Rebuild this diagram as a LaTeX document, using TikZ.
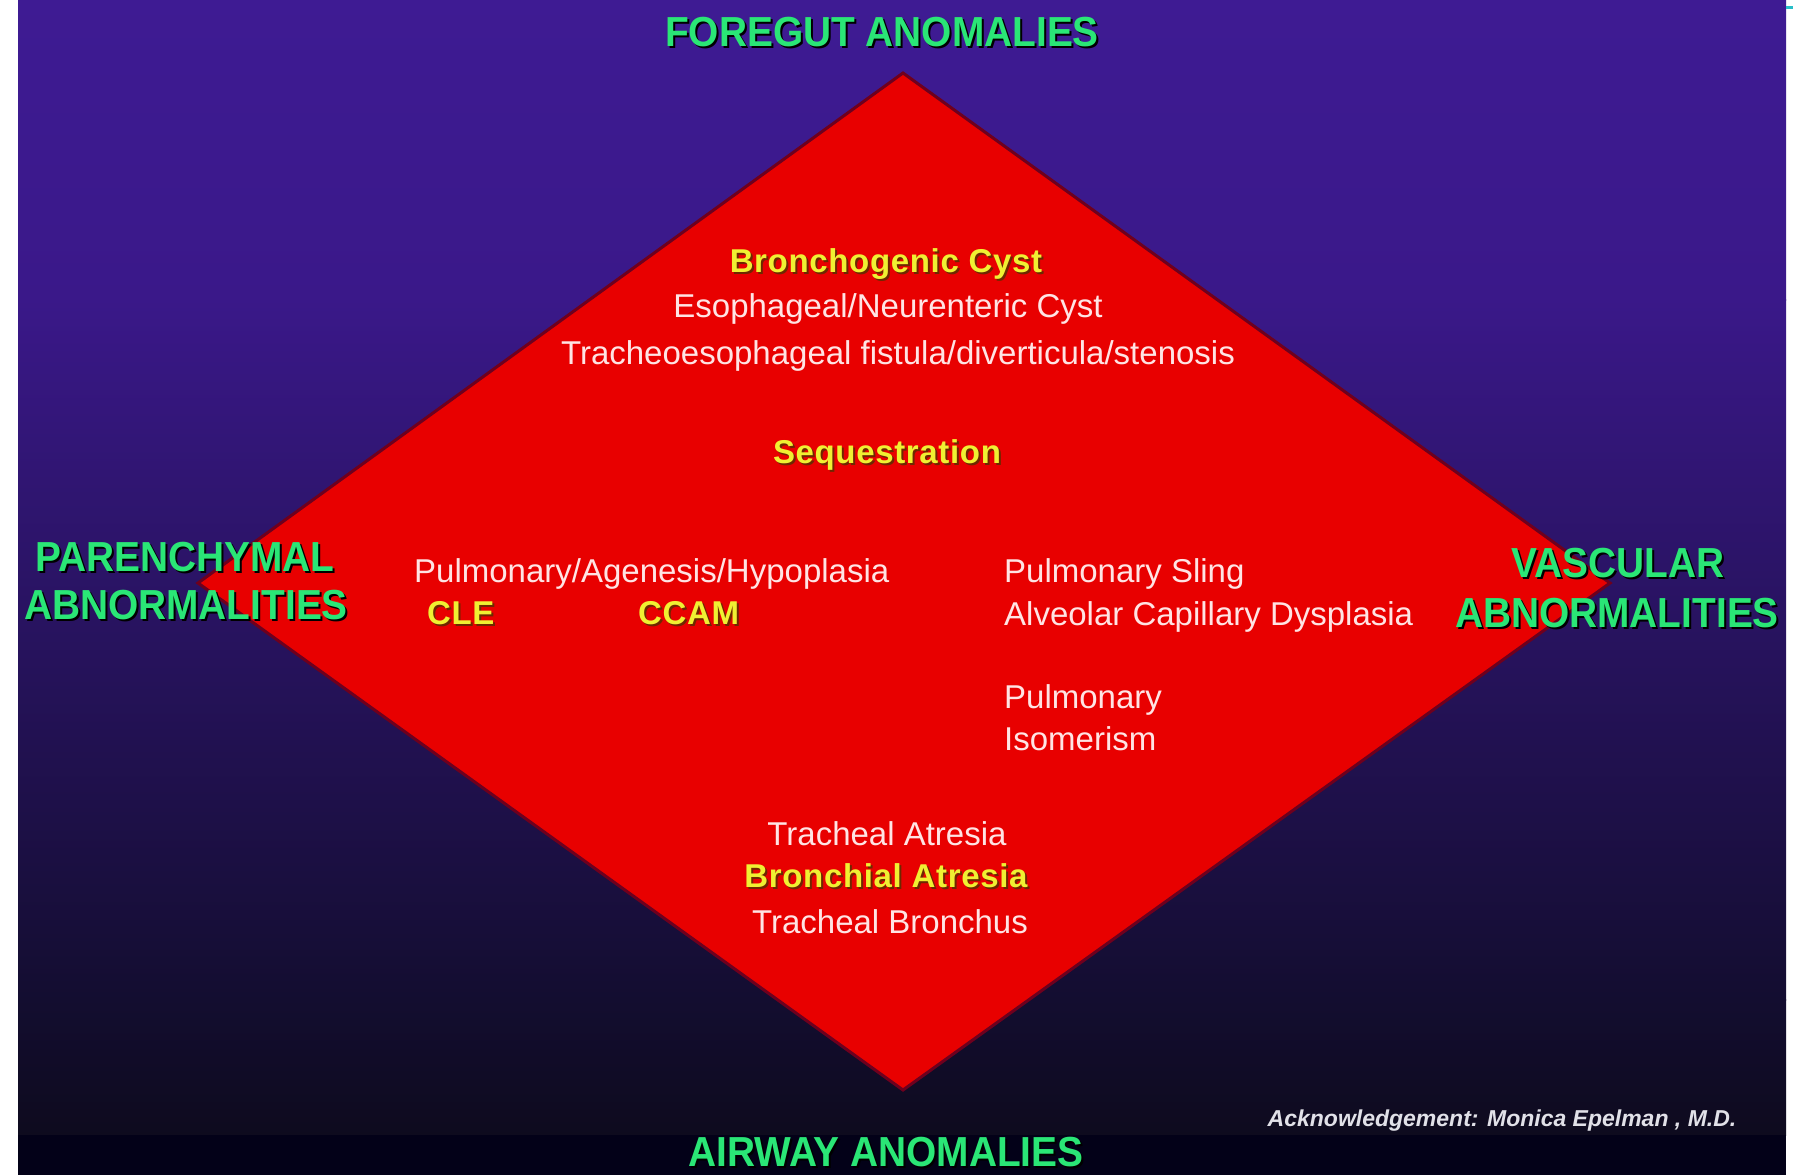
\documentclass[tikz,border=0pt]{standalone}
\usepackage{fontspec}
\setmainfont{Liberation Sans}
\newfontfamily\titlefont[FakeStretch=0.925]{Liberation Sans}
\newfontfamily\keyfont[LetterSpace=2]{Liberation Sans}
\definecolor{bgtop}{RGB}{62,27,147}
\definecolor{bgmid}{RGB}{58,24,137}
\definecolor{bgdark}{RGB}{19,13,48}
\definecolor{bgdarker}{RGB}{14,11,30}
\definecolor{bgblack}{RGB}{3,1,24}
\definecolor{dred}{RGB}{232,0,0}
\definecolor{dedge}{RGB}{110,0,30}
\definecolor{tgreen}{RGB}{42,230,118}
\definecolor{tyellow}{RGB}{240,240,50}
\definecolor{yshadow}{RGB}{110,40,0}
\definecolor{twhite}{RGB}{255,228,228}
\definecolor{ackcol}{RGB}{225,225,232}
\definecolor{tick}{RGB}{40,190,200}
\newcommand\shtext[2]{\leavevmode\rlap{\kern2pt\raisebox{-2pt}{\textcolor{#1}{#2}}}#2}
\tikzset{
  title/.style={text=tgreen, font=\titlefont\bfseries\fontsize{42}{46}\selectfont, inner sep=0pt, anchor=base},
  item/.style={text=twhite, font=\fontsize{33}{38}\selectfont, inner sep=0pt, anchor=base},
  keyitem/.style={text=tyellow, font=\keyfont\bfseries\fontsize{33}{38}\selectfont, inner sep=0pt, anchor=base},
  diamondshape/.style={fill=dred, draw=dedge, line width=3pt, line join=miter},
}
\begin{document}
\begin{tikzpicture}[x=1pt,y=-1pt]
\useasboundingbox (0,0) rectangle (1793,1175);
% background
\fill[white] (0,0) rectangle (1793,1175);
\shade[top color=bgtop, bottom color=bgmid] (18,0) rectangle (1786,300);
\shade[top color=bgmid, bottom color=bgdark] (18,299) rectangle (1786,1000);
\shade[top color=bgdark, bottom color=bgdarker] (18,999) rectangle (1786,1135);
\fill[bgblack] (18,1135) rectangle (1786,1175);
\fill[tick] (1786,6) rectangle (1793,9);
% diamond
\draw[diamondshape] (903,73) -- (1610,583) -- (903,1090) -- (198,583) -- cycle;
% titles
\node[title] (foregut) at (882,46) {\shtext{black}{FOREGUT ANOMALIES}};
\node[title] (par1) at (185,571) {\shtext{black}{PARENCHYMAL}};
\node[title] (par2) at (186,619) {\shtext{black}{ABNORMALITIES}};
\node[title] (vas1) at (1618,577) {\shtext{black}{VASCULAR}};
\node[title] (vas2) at (1617,627) {\shtext{black}{ABNORMALITIES}};
\node[title] (airway) at (886,1166) {\shtext{black}{AIRWAY ANOMALIES}};
% foregut items
\node[keyitem] (bcyst) at (886,272) {\shtext{yshadow}{Bronchogenic Cyst}};
\node[item] (ecyst) at (888,317) {Esophageal/Neurenteric Cyst};
\node[item] (tef) at (898,364) {Tracheoesophageal fistula/diverticula/stenosis};
\node[keyitem] (seq) at (887,463) {\shtext{yshadow}{Sequestration}};
% parenchymal items
\node[item, anchor=base west] (pah) at (414,582) {Pulmonary/Agenesis/Hypoplasia};
\node[keyitem, anchor=base west] (cle) at (427,624) {\shtext{yshadow}{CLE}};
\node[keyitem, anchor=base west] (ccam) at (638,624) {\shtext{yshadow}{CCAM}};
% vascular items
\node[item, anchor=base west] (sling) at (1004,582) {Pulmonary Sling};
\node[item, anchor=base west] (acd) at (1004,625) {Alveolar Capillary Dysplasia};
\node[item, anchor=base west] (pulm) at (1004,708) {Pulmonary};
\node[item, anchor=base west] (isom) at (1004,750) {Isomerism};
% airway items
\node[item] (tatr) at (887,845) {Tracheal Atresia};
\node[keyitem] (batr) at (886,887) {\shtext{yshadow}{Bronchial Atresia}};
\node[item] (tbr) at (890,933) {Tracheal Bronchus};
% acknowledgement
\node[text=ackcol, font=\bfseries\itshape\fontsize{23}{26}\selectfont, inner sep=0pt, anchor=base] (ack) at (1502,1126) {Acknowledgement: Monica Epelman , M.D.};
\end{tikzpicture}
\end{document}
